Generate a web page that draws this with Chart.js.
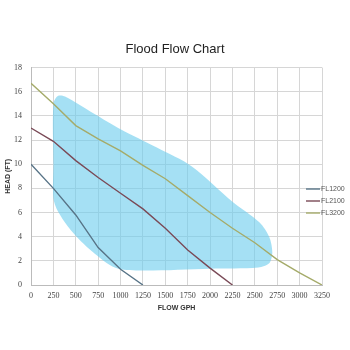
<!DOCTYPE html>
<html>
<head>
<meta charset="utf-8">
<script src="https://cdn.jsdelivr.net/npm/chart.js@4/dist/chart.umd.min.js"></script>
<style>
  html, body { margin: 0; padding: 0; background: #ffffff; }
  canvas { display: block; }
</style>
</head>
<body>
<canvas id="c" width="350" height="350"></canvas>
<script>
const chartTitle = 'Flood Flow Chart';
const xTitle = 'FLOW GPH';
const yTitle = 'HEAD (FT)';

const seriesNames = ['FL1200', 'FL2100', 'FL3200'];

const fl1200Flow = [0, 250, 500, 750, 1000, 1250];
const fl1200Head = [10, 8, 5.8, 3.1, 1.3, 0];

const fl2100Flow = [0, 250, 500, 750, 1000, 1250, 1500, 1750, 2000, 2250];
const fl2100Head = [13, 11.9, 10.3, 8.9, 7.6, 6.3, 4.7, 2.9, 1.4, 0];

const fl3200Flow = [0, 250, 500, 750, 1000, 1250, 1500, 1750, 2000, 2250, 2500, 2750, 3000, 3250];
const fl3200Head = [16.7, 15, 13.2, 12.1, 11.1, 9.9, 8.8, 7.4, 6, 4.7, 3.5, 2.1, 1.0, 0];

// operating-range region outline (closed)
const rangeFlow = [250, 250, 300, 380, 700, 1000, 1400, 1800, 2250, 2550, 2660, 2695, 2660, 2540, 2000, 1250, 950, 680, 450, 300, 250, 250];
const rangeHead = [10, 15.0, 15.65, 15.6, 14.2, 12.9, 11.4, 9.8, 6.9, 5.2, 4.0, 2.7, 1.8, 1.45, 1.35, 1.2, 1.4, 2.8, 4.5, 6.1, 7.2, 10];

const seriesColors = ['#587487', '#7a4a57', '#a5ab6a'];
const rangeColor = 'rgba(110, 205, 238, 0.62)';

const toPts = (xs, ys) => xs.map((x, i) => ({ x: x, y: ys[i] }));

const lineDs = (i, xs, ys) => ({
  label: seriesNames[i],
  data: toPts(xs, ys),
  showLine: true,
  borderColor: seriesColors[i],
  backgroundColor: seriesColors[i],
  borderWidth: 1.4,
  pointRadius: 0,
  tension: 0,
  fill: false
});

const legendPlugin = {
  id: 'sideLegend',
  afterDatasetsDraw(chart) {
    const ctx = chart.ctx;
    ctx.save();
    ctx.font = '7px "Liberation Sans", Arial, sans-serif';
    ctx.textBaseline = 'middle';
    ctx.textAlign = 'left';
    const ys = [189, 201, 213];
    for (let i = 0; i < seriesNames.length; i++) {
      const y = ys[i];
      ctx.strokeStyle = seriesColors[i];
      ctx.lineWidth = 1.4;
      ctx.beginPath();
      ctx.moveTo(306, y);
      ctx.lineTo(320, y);
      ctx.stroke();
      ctx.fillStyle = '#555555';
      ctx.fillText(seriesNames[i], 321, y);
    }
    ctx.restore();
  }
};

const tickFont = { family: '"Liberation Serif", serif', size: 8 };
const plainNum = (v) => String(v);

new Chart(document.getElementById('c'), {
  type: 'scatter',
  data: {
    datasets: [
      lineDs(0, fl1200Flow, fl1200Head),
      lineDs(1, fl2100Flow, fl2100Head),
      lineDs(2, fl3200Flow, fl3200Head),
      {
        label: 'range',
        data: toPts(rangeFlow, rangeHead),
        showLine: true,
        borderWidth: 0,
        borderColor: 'rgba(0,0,0,0)',
        backgroundColor: rangeColor,
        pointRadius: 0,
        tension: 0.3,
        fill: 'shape'
      }
    ]
  },
  options: {
    responsive: false,
    animation: false,
    devicePixelRatio: 1,
    layout: { padding: 0 },
    plugins: {
      legend: { display: false },
      tooltip: { enabled: false },
      title: {
        display: true,
        text: chartTitle,
        color: '#222222',
        font: { family: '"Liberation Sans", Arial, sans-serif', size: 13, weight: 'normal' },
        padding: { top: 42, bottom: 10 }
      }
    },
    scales: {
      x: {
        type: 'linear',
        min: 0,
        max: 3250,
        afterFit: (s) => { s.height = 65; },
        ticks: {
          stepSize: 250,
          autoSkip: false,
          maxRotation: 0,
          padding: 6,
          color: '#444444',
          font: tickFont,
          callback: plainNum
        },
        grid: { color: '#d6d6d6', lineWidth: 1, drawTicks: false },
        border: { color: '#bbbbbb' },
        title: {
          display: true,
          text: xTitle,
          color: '#333333',
          font: { family: '"Liberation Sans", Arial, sans-serif', size: 7, weight: 'bold' },
          padding: { top: 0, bottom: 38 }
        }
      },
      y: {
        type: 'linear',
        min: 0,
        max: 18,
        afterFit: (s) => { s.width = 31; },
        ticks: {
          stepSize: 2,
          padding: 9,
          color: '#444444',
          font: tickFont,
          callback: plainNum
        },
        grid: { color: '#d6d6d6', lineWidth: 1, drawTicks: false },
        border: { color: '#bbbbbb' },
        title: {
          display: true,
          text: yTitle,
          color: '#333333',
          font: { family: '"Liberation Sans", Arial, sans-serif', size: 7, weight: 'bold' },
          padding: { top: 4, bottom: 0 }
        }
      },
      yRight: {
        type: 'linear',
        position: 'right',
        min: 0,
        max: 18,
        afterFit: (s) => { s.width = 28; },
        ticks: { display: false },
        grid: { display: false, drawTicks: false },
        border: { display: false },
        title: { display: false }
      }
    }
  },
  plugins: [legendPlugin]
});
</script>
</body>
</html>
